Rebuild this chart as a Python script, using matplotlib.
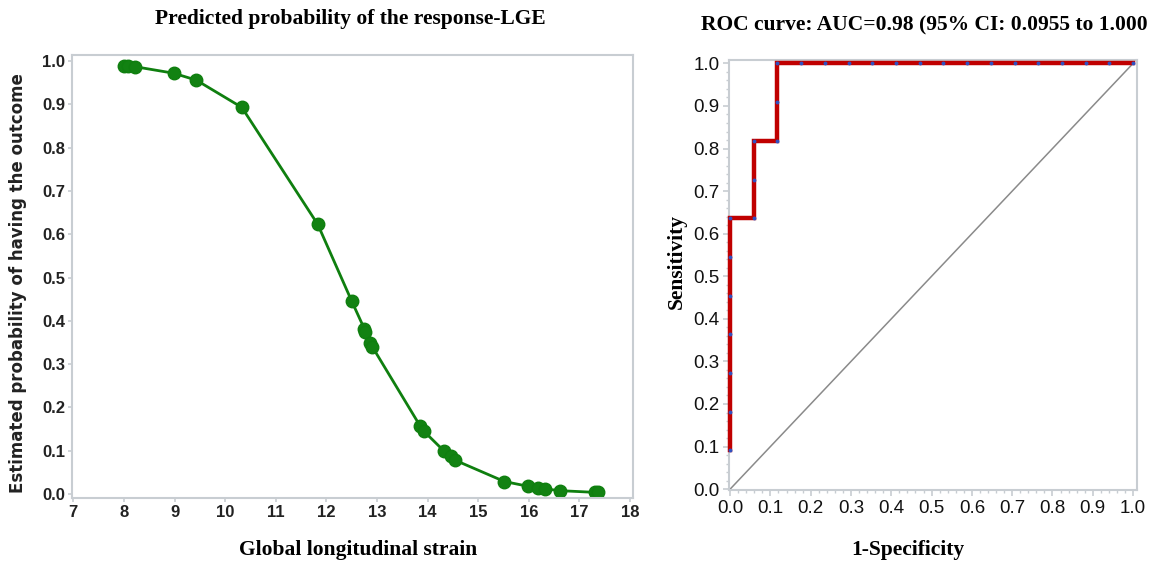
import numpy as np
import matplotlib
matplotlib.use('Agg')
import matplotlib.pyplot as plt
from matplotlib.ticker import MultipleLocator

# predicted probability curve (left)
gls = [8.00, 8.08, 8.22, 8.98, 9.43, 10.33, 11.83, 12.50, 12.75, 12.77, 12.87, 12.91,
       13.85, 13.93, 14.32, 14.46, 14.55, 15.52, 15.99, 16.19, 16.33, 16.61, 17.31, 17.37]
prob = [0.989, 0.989, 0.987, 0.972, 0.956, 0.893, 0.623, 0.446, 0.382, 0.374, 0.349, 0.340,
        0.158, 0.145, 0.100, 0.087, 0.078, 0.029, 0.018, 0.014, 0.012, 0.008, 0.004, 0.004]

# ROC points (right)
fpr = [0.0, 0.0, 0.0, 0.0, 0.0, 0.0, 0.0, 0.0588, 0.0588, 0.0588, 0.1176, 0.1176, 0.1176,
       0.1765, 0.2353, 0.2941, 0.3529, 0.4118, 0.4706, 0.5294, 0.5882, 0.6471, 0.7059,
       0.7647, 0.8235, 0.8824, 0.9412, 1.0]
tpr = [0.0909, 0.1818, 0.2727, 0.3636, 0.4545, 0.5455, 0.6364, 0.6364, 0.7273, 0.8182,
       0.8182, 0.9091, 1.0, 1.0, 1.0, 1.0, 1.0, 1.0, 1.0, 1.0, 1.0, 1.0, 1.0, 1.0, 1.0,
       1.0, 1.0, 1.0]

W, H = 1152, 562
fig = plt.figure(figsize=(W / 100, H / 100), dpi=100)

spine_col = '#c8cdd2'
serif = ['Liberation Serif', 'DejaVu Serif']
narrow = ['Liberation Sans Narrow', 'Liberation Sans', 'DejaVu Sans']


def px_axes(x0, y0, x1, y1):
    return fig.add_axes([x0 / W, 1 - y1 / H, (x1 - x0) / W, (y1 - y0) / H])


# ---- left panel
ax1 = px_axes(72, 55, 633, 498)
ax1.plot(gls, prob, color='#0f7f0f', lw=2.0, marker='o', ms=9, mec='#0f7f0f', mfc='#128212')
ax1.set_xlim(6.974, 18.06)
ax1.set_ylim(-0.009, 1.014)
ax1.set_xticks(range(7, 19))
ax1.set_yticks(np.arange(0, 1.01, 0.1))
ax1.set_yticklabels(['%.1f' % v for v in np.arange(0, 1.01, 0.1)])
for s in ax1.spines.values():
    s.set_color(spine_col)
    s.set_linewidth(1.5)
ax1.tick_params(length=3, color=spine_col, width=1.2, pad=2, labelcolor='#222222')
for lab in ax1.get_xticklabels() + ax1.get_yticklabels():
    lab.set_family(narrow)
    lab.set_fontweight('bold')
    lab.set_fontsize(12)

fig.text(350 / W, 1 - 19 / H, 'Predicted probability of the response-LGE', family=serif,
         fontweight='bold', fontsize=15.5, ha='center', va='center')
fig.text(358 / W, 1 - 550 / H, 'Global longitudinal strain', family=serif,
         fontweight='bold', fontsize=15.5, ha='center', va='center')
fig.text(18 / W, 1 - 283 / H, 'Estimated probability of having the outcome',
         family=['DejaVu Sans'], fontweight='bold', fontsize=12, rotation=90,
         ha='center', va='center', color='#222222')

# ---- right panel
ax2 = px_axes(729.3, 60, 1136.7, 490)
ax2.plot([0, 1], [0, 1], color='#8a8a8a', lw=1.1)
ax2.plot(fpr, tpr, color='#c00000', lw=3.2, solid_joinstyle='miter', clip_on=False, zorder=3)
ax2.plot(fpr, tpr, ls='none', marker='o', ms=1.8, color='#3050c0', zorder=4, clip_on=False)
ax2.set_xlim(-0.002, 1.009)
ax2.set_ylim(-0.002, 1.008)
ax2.xaxis.set_minor_locator(MultipleLocator(0.02))
ax2.yaxis.set_minor_locator(MultipleLocator(0.02))
ax2.set_xticks(np.arange(0, 1.01, 0.1))
ax2.set_xticklabels(['%.1f' % v for v in np.arange(0, 1.01, 0.1)])
ax2.set_yticks(np.arange(0, 1.01, 0.1))
ax2.set_yticklabels(['%.1f' % v for v in np.arange(0, 1.01, 0.1)])
for s in ax2.spines.values():
    s.set_color(spine_col)
    s.set_linewidth(1.5)
ax2.tick_params(which='major', length=4, color=spine_col, width=1.2, pad=3,
                labelsize=13.5, labelcolor='#111111')
ax2.tick_params(which='minor', length=2.5, color=spine_col, width=1)
for lab in ax2.get_xticklabels() + ax2.get_yticklabels():
    lab.set_family(['Liberation Sans', 'DejaVu Sans'])

fig.text(701 / W, 1 - 25 / H, 'ROC curve: AUC=0.98 (95% CI: 0.0955 to 1.000', family=serif,
         fontweight='bold', fontsize=15.5, ha='left', va='center')
fig.text(908 / W, 1 - 550 / H, '1-Specificity', family=serif,
         fontweight='bold', fontsize=15.5, ha='center', va='center')
fig.text(677 / W, 1 - 262 / H, 'Sensitivity', family=serif,
         fontweight='bold', fontsize=15.5, rotation=90, ha='center', va='center')

fig.savefig('out.png', dpi=100)
